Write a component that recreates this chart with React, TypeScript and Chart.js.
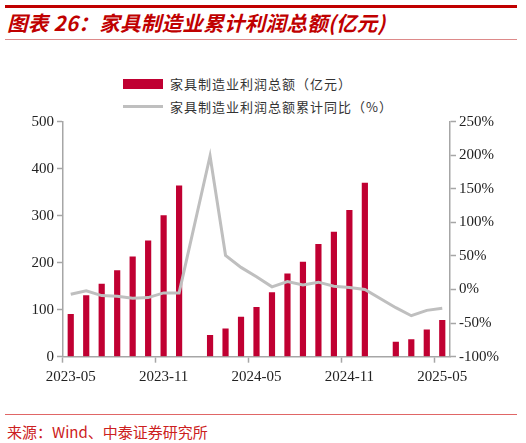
import { useRef, useEffect } from 'react'
import { Chart, registerables } from 'chart.js'
Chart.register(...registerables)

const months = [
  '2023-05', '2023-06', '2023-07', '2023-08', '2023-09', '2023-10', '2023-11', '2023-12',
  '2024-01', '2024-02', '2024-03', '2024-04', '2024-05', '2024-06', '2024-07', '2024-08',
  '2024-09', '2024-10', '2024-11', '2024-12', '2025-01', '2025-02', '2025-03', '2025-04', '2025-05',
]
// 利润总额（亿元）
const profit = [91, 131, 155, 184, 213, 247, 301, 364, null, 46, 60, 85, 106, 137, 177, 202, 240, 266, 312, 370, null, 32, 37, 58, 78]
// 累计同比（%）
const yoy = [-7, -2, -9, -10, -13, -12, -5, -5, null, 199, 51, 33, 19, 4, 12, 7, 11, 5, 3, 0, null, -27, -39, -31, -28]

const RED = '#c00032'
const GREY = '#bfbfbf'
const AXIS = '#a6a6a6'
const NUM_FONT = { family: '"Liberation Serif", "Times New Roman", serif', size: 15 }
const CJK = '"Noto Sans CJK SC", "Noto Sans", sans-serif'

export default function App() {
  const ref = useRef<HTMLCanvasElement>(null)
  const inst = useRef<Chart | null>(null)

  useEffect(() => {
    document.body.style.margin = '0'
    if (!ref.current) return
    inst.current?.destroy()
    inst.current = new Chart(ref.current, {
      type: 'bar',
      data: {
        labels: months,
        datasets: [
          { type: 'line', label: '家具制造业利润总额累计同比（%）', data: yoy, yAxisID: 'y1', borderColor: GREY, borderWidth: 3, pointRadius: 0, tension: 0, spanGaps: true, order: 0 },
          { type: 'bar', label: '家具制造业利润总额（亿元）', data: profit, yAxisID: 'y', backgroundColor: RED, categoryPercentage: 1, barPercentage: 0.4, order: 1 },
        ],
      },
      options: {
        animation: false,
        responsive: true, maintainAspectRatio: false,
        layout: { padding: { top: 21.7, bottom: 0, left: 0, right: 0 } },
        plugins: { legend: { display: false }, tooltip: { enabled: false } },
        scales: {
          x: {
            offset: true,
            grid: { offset: true, drawOnChartArea: false, tickLength: 6, tickWidth: 1.5, tickColor: (c: any) => (c.index % 6 === 0 ? AXIS : 'transparent') },
            border: { color: AXIS, width: 1.5 },
            ticks: { autoSkip: false, maxRotation: 0, padding: 5, color: '#222', font: NUM_FONT, callback: (_v: any, i: number) => (i % 6 === 0 ? months[i] : '') },
            afterFit: (s: any) => { s.height = 43.3 },
          },
          y: {
            position: 'left', min: 0, max: 500,
            grid: { drawOnChartArea: false, tickLength: 6, tickWidth: 1.5, tickColor: AXIS },
            border: { color: AXIS, width: 1.5 },
            ticks: { stepSize: 100, padding: 3, color: '#222', font: NUM_FONT },
            afterFit: (s: any) => { s.width = 63 },
          },
          y1: {
            position: 'right', min: -100, max: 250,
            grid: { drawOnChartArea: false, tickLength: 6, tickWidth: 1.5, tickColor: AXIS },
            border: { color: AXIS, width: 1.5 },
            ticks: { stepSize: 50, padding: 3, color: '#222', font: NUM_FONT, callback: v => v + '%' },
            afterFit: (s: any) => { s.width = 76 },
          },
        },
      },
    })
    return () => inst.current?.destroy()
  }, [])

  const legendText = { position: 'absolute' as const, left: 170, fontFamily: CJK, fontSize: 13, letterSpacing: 1, color: '#333', lineHeight: '16px', whiteSpace: 'nowrap' as const }

  return (
    <div style={{ position: 'relative', width: 526, height: 443, background: '#fff', overflow: 'hidden' }}>
      <div style={{ position: 'absolute', left: 5, top: 5, width: 512, height: 2.5, background: '#c00000' }} />
      <div style={{ position: 'absolute', left: 7, top: 9, fontFamily: CJK, fontSize: 20.5, fontWeight: 700, fontStyle: 'italic', color: '#c00000', lineHeight: '26px', letterSpacing: 0.3, whiteSpace: 'nowrap' }}>
        图表 26：家具制造业累计利润总额(亿元)
      </div>
      <div style={{ position: 'absolute', left: 5, top: 39, width: 512, height: 1, background: '#dd8a8a' }} />

      {/* legend */}
      <div style={{ position: 'absolute', left: 123, top: 79, width: 40, height: 10, background: RED }} />
      <div style={{ ...legendText, top: 76 }}>家具制造业利润总额（亿元）</div>
      <div style={{ position: 'absolute', left: 123, top: 105, width: 40, height: 3, background: GREY }} />
      <div style={{ ...legendText, top: 98.5 }}>家具制造业利润总额累计同比（%）</div>

      <div style={{ position: 'absolute', left: 0, top: 100, width: 526, height: 300 }}><canvas ref={ref} /></div>

      <div style={{ position: 'absolute', left: 5, top: 414, width: 512, height: 1, background: '#e06666' }} />
      <div style={{ position: 'absolute', left: 7, top: 422, fontFamily: CJK, fontSize: 15, color: '#cc2020', lineHeight: '20px', whiteSpace: 'nowrap' }}>
        来源：Wind、中泰证券研究所
      </div>
    </div>
  )
}
